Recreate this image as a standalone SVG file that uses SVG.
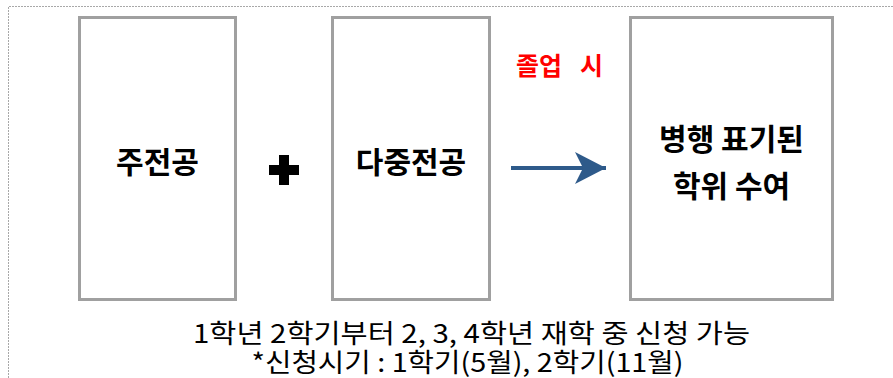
<svg xmlns="http://www.w3.org/2000/svg" width="893" height="378" viewBox="0 0 893 378">
<style>
.box{fill:#fff;stroke:#a0a0a0;stroke-width:3}
.lbl{font-family:"Noto Sans CJK KR","Noto Sans",sans-serif;font-weight:700;font-size:30px;fill:#000;text-anchor:middle}
.note{font-family:"Noto Sans CJK KR","Noto Sans",sans-serif;font-weight:400;font-size:26px;fill:#000}
.red{font-family:"Noto Sans CJK KR","Noto Sans",sans-serif;font-weight:700;font-size:25px;fill:#ff0000}
</style>
<defs>
<marker id="ah" markerUnits="userSpaceOnUse" markerWidth="34" markerHeight="34" refX="31" refY="16" orient="auto" viewBox="0 0 34 34">
<path d="M0,0 L31,16 L0,32 L8,16 Z" fill="#2e5a8a"/>
</marker>
</defs>
<rect width="893" height="378" fill="#fff"/>
<path d="M8.5,378 L8.5,6.5 L893,6.5" fill="none" stroke="#a8a8a8" stroke-width="1" stroke-dasharray="2,1"/>
<g id="major">
<rect class="box" x="79.5" y="17.5" width="156" height="282"/>
<text class="lbl" x="157.5" y="173">주전공</text>
</g>
<g id="plus">
<path d="M279,155 h10 v10 h10 v10 h-10 v10 h-10 v-10 h-10 v-10 h10 Z" fill="#000"/>
</g>
<g id="multi">
<rect class="box" x="332.5" y="17.5" width="157" height="282"/>
<text class="lbl" x="411" y="173">다중전공</text>
</g>
<g id="degree">
<rect class="box" x="630.5" y="17.5" width="202" height="282"/>
<text class="lbl" x="731.5" y="150">병행 표기된</text>
<text class="lbl" x="731.5" y="197">학위 수여</text>
</g>
<g id="connectors">
<line x1="511" y1="168" x2="606" y2="168" stroke="#2e5a8a" stroke-width="4" marker-end="url(#ah)"/>
<text class="red" y="75"><tspan x="516">졸업</tspan><tspan x="580">시</tspan></text>
</g>
<g id="notes">
<text class="note" x="193" y="343" textLength="557" lengthAdjust="spacingAndGlyphs">1학년 2학기부터 2, 3, 4학년 재학 중 신청 가능</text>
<text class="note" x="251.5" y="372" textLength="432" lengthAdjust="spacingAndGlyphs">*신청시기 : 1학기(5월), 2학기(11월)</text>
</g>
</svg>
